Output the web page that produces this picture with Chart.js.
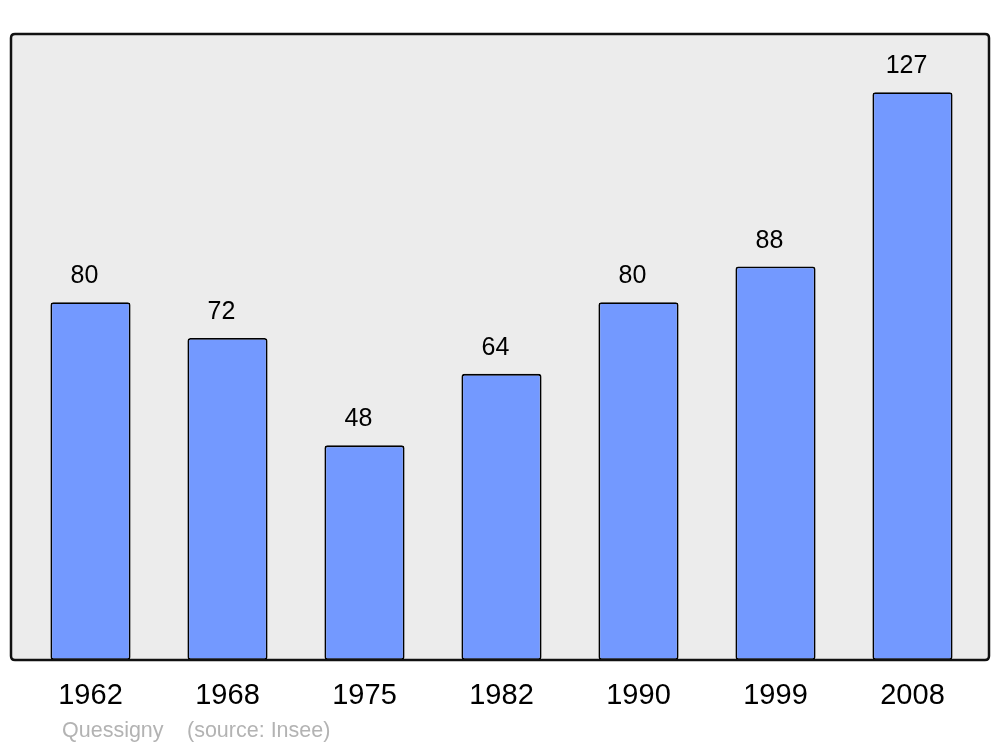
<!DOCTYPE html>
<html>
<head>
<meta charset="utf-8">
<title>Quessigny - population</title>
<script src="https://cdn.jsdelivr.net/npm/chart.js@4"></script>
<style>
  html, body { margin: 0; padding: 0; background: #ffffff; }
  #wrap { width: 1000px; height: 747px; }
</style>
</head>
<body>
<div id="wrap"><canvas id="popChart" width="1000" height="747"></canvas></div>
<script>
// Données
const years = ['1962', '1968', '1975', '1982', '1990', '1999', '2008'];
const population = [80, 72, 48, 64, 80, 88, 127];
const yMax = 140;
const commune = 'Quessigny';
const source = '(source: Insee)';

const FONT = '"Liberation Sans", Arial, sans-serif';

// Cadre gris arrondi derrière les barres
const frame = {
    id: 'frame',
    beforeDatasetsDraw(chart) {
        const ctx = chart.ctx;
        ctx.save();
        roundRect(ctx, 11, 34, 978, 626, 4);
        ctx.fillStyle = '#ececec';
        ctx.fill();
        ctx.restore();
    },
    afterDatasetsDraw(chart) {
        const ctx = chart.ctx;
        ctx.save();
        roundRect(ctx, 11, 34, 978, 626, 4);
        ctx.lineWidth = 2.5;
        ctx.strokeStyle = '#111';
        ctx.stroke();

        // valeurs au-dessus des barres
        const meta = chart.getDatasetMeta(0);
        ctx.font = '25px ' + FONT;
        ctx.fillStyle = '#000';
        ctx.textAlign = 'center';
        ctx.textBaseline = 'alphabetic';
        meta.data.forEach((bar, i) => {
            ctx.fillText(String(population[i]), bar.x - 6, bar.y - 19);
        });

        // légende en bas
        ctx.font = '21.5px ' + FONT;
        ctx.fillStyle = '#b3b3b3';
        ctx.textAlign = 'left';
        ctx.fillText(commune, 62, 737);
        ctx.fillText(source, 187, 737);
        ctx.restore();
    }
};

function roundRect(ctx, x, y, w, h, r) {
    ctx.beginPath();
    ctx.moveTo(x + r, y);
    ctx.lineTo(x + w - r, y);
    ctx.quadraticCurveTo(x + w, y, x + w, y + r);
    ctx.lineTo(x + w, y + h - r);
    ctx.quadraticCurveTo(x + w, y + h, x + w - r, y + h);
    ctx.lineTo(x + r, y + h);
    ctx.quadraticCurveTo(x, y + h, x, y + h - r);
    ctx.lineTo(x, y + r);
    ctx.quadraticCurveTo(x, y, x + r, y);
    ctx.closePath();
}

new Chart(document.getElementById('popChart'), {
    type: 'bar',
    data: {
        labels: years,
        datasets: [{
            data: population,
            backgroundColor: '#7399ff',
            borderColor: '#000',
            borderWidth: 1.8,
            borderRadius: 3,
            borderSkipped: false,
            categoryPercentage: 1,
            barPercentage: 0.585
        }]
    },
    options: {
        responsive: false,
        animation: false,
        devicePixelRatio: 1,
        layout: { padding: { left: 22, right: 19, top: 34, bottom: 0 } },
        plugins: {
            legend: { display: false },
            tooltip: { enabled: false }
        },
        scales: {
            x: {
                grid: { display: false, drawTicks: false },
                border: { display: false },
                ticks: {
                    color: '#000',
                    font: { family: FONT, size: 29 },
                    padding: 19,
                    maxRotation: 0
                },
                afterFit(scale) { scale.height = 87; }
            },
            y: {
                display: false,
                min: 0,
                max: yMax
            }
        }
    },
    plugins: [frame]
});
</script>
</body>
</html>
